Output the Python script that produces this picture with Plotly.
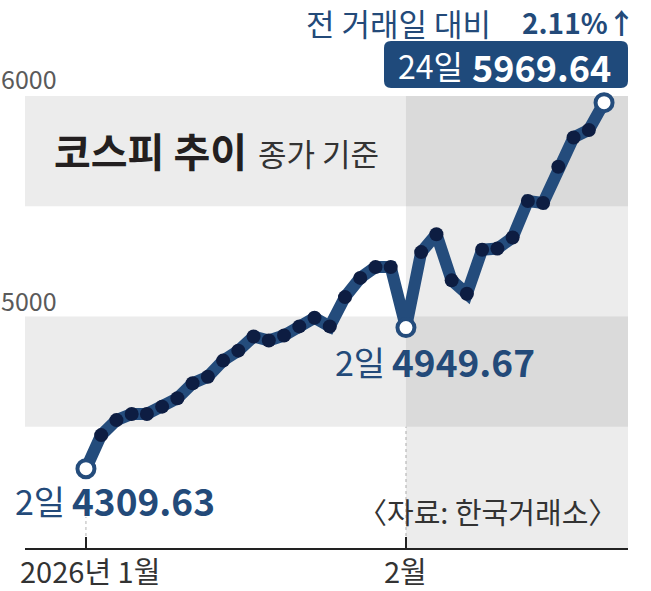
import plotly.graph_objects as go

# ---------------- data ----------------
dates = [
    "2026-01-02", "2026-01-05", "2026-01-06", "2026-01-07", "2026-01-08", "2026-01-09",
    "2026-01-12", "2026-01-13", "2026-01-14", "2026-01-15", "2026-01-16",
    "2026-01-19", "2026-01-20", "2026-01-21", "2026-01-22", "2026-01-23",
    "2026-01-26", "2026-01-27", "2026-01-28", "2026-01-29", "2026-01-30",
    "2026-02-02", "2026-02-03", "2026-02-04", "2026-02-05", "2026-02-06",
    "2026-02-09", "2026-02-10", "2026-02-11", "2026-02-12", "2026-02-13",
    "2026-02-19", "2026-02-20", "2026-02-23", "2026-02-24",
]
kospi = [
    4309.63, 4462, 4530, 4558, 4558, 4591,
    4629, 4697, 4727, 4800, 4845,
    4909, 4891, 4914, 4955, 4994,
    4955, 5088, 5175, 5224, 5224,
    4949.67, 5292, 5373, 5164, 5103,
    5303, 5308, 5358, 5524, 5515,
    5679, 5812, 5846, 5969.64,
]
highlight_idx = [0, 21, 34]
month_tick_idx = [0, 21]
month_tick_text = ["2026년 1월", "2월"]
y_tick_vals = [6000, 5000]
band_ranges = [(5500, 6000), (4500, 5000)]
y_min, y_max = 3950, 6000

title_main = "코스피 추이"
title_sub = "종가 기준"
change_text = "전 거래일 대비"
change_pct = "2.11%↑"
source_text = "〈자료: 한국거래소〉"

# ---------------- style ----------------
LINE = "#244c7c"
DOT = "#0d1d42"
NAVY = "#234a79"
BOX = "#1f4a7b"
REG = "Noto Sans CJK KR, sans-serif"
BOLD = "Noto Sans CJK KR, sans-serif"

L, R, T, B = 25, 628, 96, 548
W, H = R - L, B - T
def px(x):
    return (x - L) / W
def py(y):
    return (B - y) / H

x_lo = -4.0
x_hi = x_lo + W / (320 / 21)

fig = go.Figure()

fig.add_trace(go.Scatter(
    x=dates, y=kospi, mode="lines+markers",
    line=dict(color=LINE, width=12),
    marker=dict(size=14, color=DOT),
    hoverinfo="x+y", cliponaxis=False,
))
fig.add_trace(go.Scatter(
    x=[dates[i] for i in highlight_idx], y=[kospi[i] for i in highlight_idx],
    mode="markers",
    marker=dict(size=17, color="white", line=dict(color=LINE, width=4)),
    hoverinfo="x+y", cliponaxis=False,
))

shapes = []
for lo, hi in band_ranges:
    shapes.append(dict(type="rect", xref="x", yref="y", x0=x_lo, x1=x_hi, y0=lo, y1=hi,
                       fillcolor="#ececec", line=dict(width=0), layer="below"))
shapes.append(dict(type="rect", xref="x", yref="y", x0=month_tick_idx[1], x1=x_hi, y0=y_min, y1=y_max,
                   fillcolor="rgba(0,0,0,0.075)", line=dict(width=0), layer="below"))
# dashed guides from labels to axis
shapes.append(dict(type="line", xref="x", yref="paper", x0=0, x1=0, y0=0, y1=py(517),
                   line=dict(color="#b5b5b5", width=1, dash="3px,3px"), layer="below"))
shapes.append(dict(type="line", xref="x", yref="paper", x0=21, x1=21, y0=0, y1=py(378),
                   line=dict(color="#b5b5b5", width=1, dash="3px,3px"), layer="below"))

# rounded box for the last value
bx0, by0, bx1, by1, r = 384, 41, 628, 88, 7
def P(x, y):
    return f"{px(x):.5f},{py(y):.5f}"
path = (f"M {P(bx0 + r, by0)} L {P(bx1 - r, by0)} Q {P(bx1, by0)} {P(bx1, by0 + r)} "
        f"L {P(bx1, by1 - r)} Q {P(bx1, by1)} {P(bx1 - r, by1)} "
        f"L {P(bx0 + r, by1)} Q {P(bx0, by1)} {P(bx0, by1 - r)} "
        f"L {P(bx0, by0 + r)} Q {P(bx0, by0)} {P(bx0 + r, by0)} Z")
shapes.append(dict(type="path", xref="paper", yref="paper", path=path,
                   fillcolor=BOX, line=dict(width=0)))

ann = []
def text(t, x, y, size, color, family=REG, anchor="left"):
    ann.append(dict(text=t, xref="paper", yref="paper", x=px(x), y=py(y),
                    xanchor=anchor, yanchor="middle", showarrow=False,
                    font=dict(size=size, color=color, family=family)))

# y labels
for v, yc in zip(y_tick_vals, [78, 300]):
    text(str(v), -1, yc, 25, "#5a5a5a")
# x labels
text(month_tick_text[0], 18, 570, 29, "#333333")
text(month_tick_text[1], 405, 570, 29, "#333333", anchor="center")
# title
text(f"<b>{title_main}</b>", 52, 150, 40, "#231f20", family=BOLD)
text(title_sub, 256, 152, 31, "#333333")
# value labels
text(f"{dates[0][-2:].lstrip('0')}일", 13, 500, 34, NAVY)
text(f"<b>{kospi[0]:.2f}</b>", 70, 500, 37, NAVY, family=BOLD)
text(f"{dates[21][-2:].lstrip('0')}일", 333, 361, 34, NAVY)
text(f"<b>{kospi[21]:.2f}</b>", 390, 361, 37, NAVY, family=BOLD)
text(f"{dates[-1][-2:].lstrip('0')}일", 396, 65, 32, "white")
text(f"<b>{kospi[-1]:.2f}</b>", 470, 66, 36, "white", family=BOLD)
# change
text(change_text, 304, 23, 31, NAVY)
text(f"<b>{change_pct}</b>", 520, 22, 28, NAVY, family=BOLD)
# source
text(source_text, 356, 511, 29, "#333333")

fig.update_layout(
    width=651, height=591, autosize=False,
    margin=dict(l=L, r=651 - R, t=T, b=591 - B, pad=0),
    paper_bgcolor="white", plot_bgcolor="white",
    showlegend=False, shapes=shapes, annotations=ann,
    xaxis=dict(type="category", range=[x_lo, x_hi], showgrid=False, zeroline=False,
               showline=True, linecolor="#222222", linewidth=2,
               ticks="inside", ticklen=11, tickwidth=2, tickcolor="#222222",
               tickvals=[dates[i] for i in month_tick_idx], showticklabels=False,
               fixedrange=True),
    yaxis=dict(range=[y_min, y_max], showgrid=False, zeroline=False, showline=False,
               showticklabels=False, fixedrange=True),
)

fig.write_html("out.html", config={"displayModeBar": False},
               post_script="document.body.style.margin='0';")
